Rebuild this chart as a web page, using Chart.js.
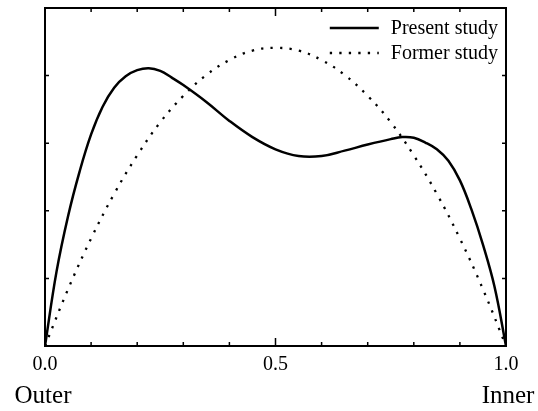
<!DOCTYPE html>
<html>
<head>
<meta charset="utf-8">
<script src="https://cdn.jsdelivr.net/npm/chart.js@4/dist/chart.umd.min.js"></script>
<style>
  html, body { margin: 0; padding: 0; background: #fff; }
  canvas { display: block; }
</style>
</head>
<body>
<canvas id="profileChart" width="538" height="411"></canvas>
<script>
// radial position (0 = outer wall, 1 = inner wall) and profile value
const presentX = [0, 0.025, 0.05, 0.075, 0.1, 0.125, 0.15, 0.175, 0.2, 0.225, 0.25, 0.275, 0.3, 0.35, 0.4, 0.45, 0.5, 0.55, 0.6, 0.65, 0.7, 0.75, 0.775, 0.8, 0.825, 0.85, 0.875, 0.9, 0.925, 0.95, 0.975, 1];
const presentY = [0, 1.10, 1.92, 2.58, 3.13, 3.54, 3.82, 3.99, 4.08, 4.11, 4.07, 3.97, 3.86, 3.61, 3.33, 3.09, 2.91, 2.81, 2.81, 2.89, 2.98, 3.06, 3.09, 3.08, 3.01, 2.91, 2.74, 2.45, 2.02, 1.50, 0.88, 0];

const formerX = [0, 0.05, 0.1, 0.15, 0.2, 0.25, 0.3, 0.35, 0.4, 0.45, 0.5, 0.55, 0.6, 0.65, 0.7, 0.75, 0.8, 0.85, 0.9, 0.95, 1];
const formerY = [0, 0.84, 1.59, 2.25, 2.82, 3.31, 3.70, 4.01, 4.23, 4.37, 4.41, 4.37, 4.23, 4.01, 3.70, 3.31, 2.82, 2.25, 1.59, 0.84, 0];

const seriesNames = ['Present study', 'Former study'];
const xLabelsShown = [0, 0.5, 1];
const endLabels = ['Outer', 'Inner'];

const serif = '"Liberation Serif", "DejaVu Serif", serif';

const framePlugin = {
    id: 'frame',
    afterDatasetsDraw(chart) {
        const { ctx, chartArea: a, scales: { x, y } } = chart;
        ctx.save();
        ctx.strokeStyle = '#000';
        ctx.lineWidth = 2;
        ctx.strokeRect(a.left, a.top, a.right - a.left, a.bottom - a.top);

        // inward ticks on all four sides
        ctx.lineWidth = 1.5;
        ctx.beginPath();
        x.ticks.forEach(t => {
            if (t.value <= 0 || t.value >= 1) return;
            const px = x.getPixelForValue(t.value);
            const len = Math.abs(t.value - 0.5) < 1e-6 ? 8 : 4;
            ctx.moveTo(px, a.bottom); ctx.lineTo(px, a.bottom - len);
            ctx.moveTo(px, a.top); ctx.lineTo(px, a.top + len);
        });
        y.ticks.forEach(t => {
            if (t.value <= 0 || t.value >= 5) return;
            const py = y.getPixelForValue(t.value);
            ctx.moveTo(a.left, py); ctx.lineTo(a.left + 4, py);
            ctx.moveTo(a.right, py); ctx.lineTo(a.right - 4, py);
        });
        ctx.stroke();

        // legend in the upper right corner
        ctx.font = '20px ' + serif;
        ctx.fillStyle = '#000';
        ctx.textBaseline = 'middle';
        ctx.textAlign = 'left';
        const textW = Math.max(...seriesNames.map(s => ctx.measureText(s).width));
        const textX = a.right - 8 - textW;
        chart.data.datasets.forEach((ds, i) => {
            const ly = a.top + 20 + i * 25;
            ctx.save();
            ctx.strokeStyle = ds.borderColor;
            ctx.lineWidth = ds.borderWidth;
            ctx.setLineDash(ds.borderDash || []);
            ctx.beginPath();
            ctx.moveTo(textX - 61, ly);
            ctx.lineTo(textX - 12, ly);
            ctx.stroke();
            ctx.restore();
            ctx.fillText(ds.label, textX, ly + 1);
        });

        // Outer / Inner captions under the axis ends
        ctx.font = '25px ' + serif;
        ctx.textAlign = 'center';
        ctx.fillText(endLabels[0], x.getPixelForValue(0) - 2, 396);
        ctx.fillText(endLabels[1], x.getPixelForValue(1) + 2, 396);
        ctx.restore();
    }
};

new Chart(document.getElementById('profileChart'), {
    type: 'line',
    data: {
        datasets: [{
            label: seriesNames[0],
            data: presentX.map((v, i) => ({ x: v, y: presentY[i] })),
            borderColor: '#000',
            borderWidth: 2.5,
            pointRadius: 0,
            tension: 0.4,
            fill: false
        }, {
            label: seriesNames[1],
            data: formerX.map((v, i) => ({ x: v, y: formerY[i] })),
            borderColor: '#000',
            borderWidth: 2.3,
            borderDash: [2.3, 7.2],
            pointRadius: 0,
            tension: 0.4,
            fill: false
        }]
    },
    options: {
        responsive: false,
        maintainAspectRatio: false,
        animation: false,
        layout: { padding: { left: 45, right: 32, top: 8, bottom: 0 } },
        plugins: {
            legend: { display: false },
            tooltip: { enabled: false }
        },
        scales: {
            x: {
                type: 'linear',
                min: 0,
                max: 1,
                grid: { display: false, drawTicks: false },
                border: { display: false },
                ticks: {
                    stepSize: 0.1,
                    autoSkip: false,
                    maxRotation: 0,
                    padding: 7,
                    color: '#000',
                    font: { family: serif, size: 20 },
                    callback: (v) => xLabelsShown.some(s => Math.abs(s - v) < 1e-6) ? Number(v).toFixed(1) : ''
                },
                afterFit: (scale) => { scale.height = 65; }
            },
            y: {
                min: 0,
                max: 5,
                grid: { display: false, drawTicks: false },
                border: { display: false },
                ticks: { stepSize: 1, display: false },
                afterFit: (scale) => { scale.width = 0; }
            }
        }
    },
    plugins: [framePlugin]
});
</script>
</body>
</html>
